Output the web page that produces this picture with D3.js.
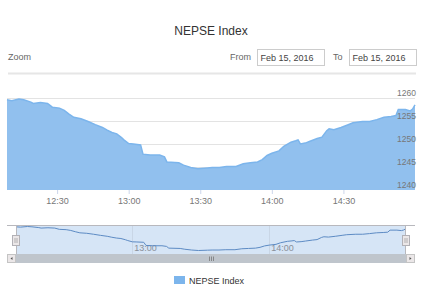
<!DOCTYPE html>
<html>
<head>
<meta charset="utf-8">
<script src="https://cdn.jsdelivr.net/npm/d3@7"></script>
<style>
  body { margin: 0; background: #fff; }
  svg { display: block; font-family: "Lucida Grande", "Liberation Sans", Arial, sans-serif; }
</style>
</head>
<body>
<div id="chart"></div>
<script>
// intraday NEPSE index, 15 Feb 2016
var times = ["12:09","12:11","12:14","12:16","12:19","12:20","12:23","12:26","12:28","12:31",
  "12:33","12:35","12:37","12:40","12:43","12:46","12:49","12:51","12:53","12:55",
  "12:57","12:58","13:00","13:02","13:05","13:06","13:09","13:13","13:15","13:16",
  "13:21","13:23","13:26","13:29","13:33","13:35","13:38","13:41","13:45","13:48",
  "13:51","13:54","13:56","13:58","14:00","14:03","14:05","14:08","14:10","14:11",
  "14:12","14:14","14:16","14:19","14:21","14:23","14:24","14:26","14:29","14:32",
  "14:34","14:38","14:41","14:44","14:47","14:50","14:52","14:53","14:56","14:58",
  "14:59","15:00"];
var values = [1259.6,1259.4,1259.8,1259.6,1259.1,1258.8,1259.0,1258.8,1258.0,1257.8,
  1257.3,1256.5,1255.8,1255.5,1254.9,1254.2,1253.6,1253.0,1252.5,1252.2,
  1251.4,1250.9,1250.1,1250.0,1249.8,1247.8,1247.6,1247.6,1247.2,1246.1,
  1245.9,1245.4,1244.9,1244.6,1244.8,1244.9,1244.9,1245.1,1245.1,1245.7,
  1245.9,1246.1,1246.6,1247.5,1248.0,1248.5,1249.5,1250.4,1250.7,1250.9,
  1250.0,1250.2,1250.6,1251.2,1251.5,1252.9,1253.3,1253.1,1253.6,1254.2,
  1254.6,1254.9,1254.9,1255.3,1255.8,1256.0,1256.2,1257.5,1257.5,1257.2,
  1257.6,1258.5];
var yTicks = [1240, 1245, 1250, 1255, 1260];
var xTicks = ["12:30","13:00","13:30","14:00","14:30"];
var navTicks = ["13:00","14:00"];
var seriesName = "NEPSE Index";
var dateLabel = "Feb 15, 2016";

var width = 422, height = 300;
var parse = d3.timeParse("%H:%M");
var fmt = d3.timeFormat("%H:%M");
var data = times.map(function(t, i) { return {t: parse(t), v: values[i]}; });

var svg = d3.select("#chart").append("svg").attr("width", width).attr("height", height);

// title + range selector row
svg.append("text").attr("x", 211).attr("y", 35).attr("text-anchor", "middle")
  .style("font-size", "12px").style("fill", "#333").text(seriesName);

svg.append("text").attr("x", 8).attr("y", 60).style("font-size", "9px").style("fill", "#666").text("Zoom");
svg.append("text").attr("x", 230).attr("y", 60).style("font-size", "9px").style("fill", "#666").text("From");
svg.append("text").attr("x", 333).attr("y", 60).style("font-size", "9px").style("fill", "#666").text("To");
[257.5, 349.5].forEach(function(x) {
  svg.append("rect").attr("x", x).attr("y", 49.5).attr("width", 67).attr("height", 16)
    .style("fill", "#fff").style("stroke", "#ccc");
  svg.append("text").attr("x", x + 3).attr("y", 60.5).style("font-size", "9px").style("fill", "#444").text(dateLabel);
});
svg.append("line").attr("x1", 8).attr("x2", 416).attr("y1", 73.5).attr("y2", 73.5)
  .style("stroke", "#e6e6e6").style("stroke-width", 2);

// main plot
var x = d3.scaleTime().domain(d3.extent(data, d => d.t)).range([7, 415]);
var y = d3.scaleLinear().domain([1240, 1260]).range([190, 98]);

var grid = svg.append("g");
grid.selectAll("line").data(yTicks.slice(1)).enter().append("line")
  .attr("x1", 7).attr("x2", 415)
  .attr("y1", d => Math.round(y(d)) + 0.5).attr("y2", d => Math.round(y(d)) + 0.5)
  .style("stroke", "#e3e3e3");

svg.append("path").datum(data)
  .attr("d", d3.area().x(d => x(d.t)).y0(190).y1(d => y(d.v)))
  .style("fill", "#91c0ee");
svg.append("path").datum(data)
  .attr("d", d3.line().x(d => x(d.t)).y(d => y(d.v)))
  .style("fill", "none").style("stroke", "#7cb5ec").style("stroke-width", 1.5);

svg.selectAll(".ylab").data(yTicks).enter().append("text").attr("class", "ylab")
  .attr("x", 416).attr("y", d => y(d) - 2).attr("text-anchor", "end")
  .style("font-size", "8.5px").style("fill", "#777").text(d => d);

var xAxis = svg.append("g").attr("transform", "translate(0,190)")
  .call(d3.axisBottom(x).tickValues(xTicks.map(parse)).tickFormat(fmt).tickSize(4).tickPadding(4));
xAxis.select(".domain").remove();
xAxis.selectAll("line").style("stroke", "#ccd6eb");
xAxis.selectAll("text").style("font-size", "9px").style("fill", "#777").style("font-family", null);

// navigator
var nx = d3.scaleTime().domain(x.domain()).range([16, 406]);
var ny = d3.scaleLinear().domain(d3.extent(values)).range([250.5, 226.5]);

svg.append("rect").attr("x", 16).attr("y", 225).attr("width", 390).attr("height", 29)
  .style("fill", "#d6e5f6");
svg.selectAll(".navgrid").data(navTicks).enter().append("line").attr("class", "navgrid")
  .attr("x1", d => Math.round(nx(parse(d))) + 0.5).attr("x2", d => Math.round(nx(parse(d))) + 0.5)
  .attr("y1", 225).attr("y2", 254).style("stroke", "#c9d6e6");
svg.selectAll(".navlab").data(navTicks).enter().append("text").attr("class", "navlab")
  .attr("x", d => nx(parse(d)) + 2).attr("y", 251)
  .style("font-size", "9px").style("fill", "#8a9099").text(d => d);
svg.append("path").datum(data)
  .attr("d", d3.line().x(d => nx(d.t)).y(d => ny(d.v)))
  .style("fill", "none").style("stroke", "#5d8bc4").style("stroke-width", 1);

svg.append("path")
  .attr("d", "M7,225.5H415M16.5,225V254M405.5,225V254")
  .style("fill", "none").style("stroke", "#b8b8bd");

// handles
[16, 406].forEach(function(hx) {
  svg.append("rect").attr("x", hx - 3.5).attr("y", 235.5).attr("width", 7).attr("height", 10)
    .style("fill", "#ebe7e8").style("stroke", "#b2b1b6");
  svg.append("path").attr("d", "M" + (hx - 1) + ",238V243M" + (hx + 1) + ",238V243")
    .style("stroke", "#999").style("stroke-width", 0.7);
});

// scrollbar
svg.append("rect").attr("x", 7).attr("y", 254).attr("width", 408).attr("height", 9).style("fill", "#eeeeee");
svg.append("rect").attr("x", 16).attr("y", 254).attr("width", 390).attr("height", 9).style("fill", "#bfc5cc");
[7, 406].forEach(function(bx, i) {
  svg.append("rect").attr("x", bx + 0.5).attr("y", 254.5).attr("width", 8).attr("height", 8)
    .style("fill", "#ebe7e8").style("stroke", "#c4c4c4");
  var cx = bx + 4.5, cy = 258.5;
  svg.append("path")
    .attr("d", i === 0 ? "M" + (cx + 1) + "," + (cy - 1.5) + "L" + (cx - 1) + "," + cy + "L" + (cx + 1) + "," + (cy + 1.5) + "Z"
                       : "M" + (cx - 1) + "," + (cy - 1.5) + "L" + (cx + 1) + "," + cy + "L" + (cx - 1) + "," + (cy + 1.5) + "Z")
    .style("fill", "#555");
});
svg.append("path").attr("d", "M209.5,256.5V261M211.5,256.5V261M213.5,256.5V261")
  .style("stroke", "#777").style("stroke-width", 0.8);

// legend
svg.append("rect").attr("x", 174).attr("y", 276).attr("width", 11).attr("height", 8).style("fill", "#7cb5ec");
svg.append("text").attr("x", 189).attr("y", 283.5).style("font-size", "9px").style("fill", "#333").text(seriesName);
</script>
</body>
</html>
